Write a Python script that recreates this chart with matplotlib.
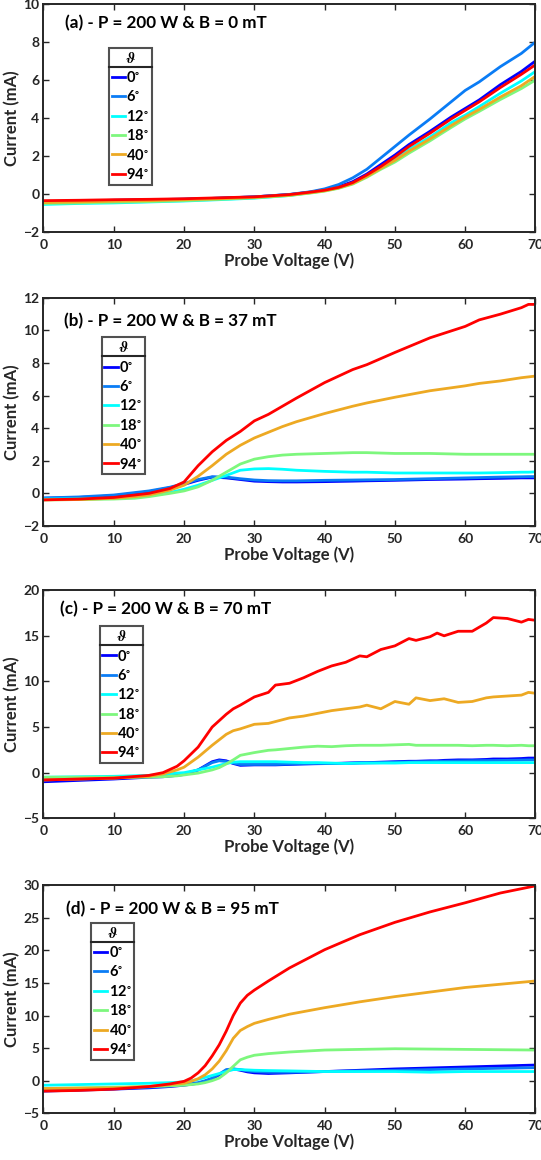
import matplotlib
matplotlib.use("Agg")
from matplotlib import pyplot as plt
from matplotlib.lines import Line2D

plt.rcParams["font.family"] = ["Lato", "DejaVu Sans"]
plt.rcParams["font.weight"] = "bold"
plt.rcParams["mathtext.fontset"] = "stix"

angles = ["0", "6", "12", "18", "40", "94"]
colors = ["#0000FF", "#0A7CF5", "#00FFFF", "#7DF77D", "#EDA923", "#FF0000"]
titles = [
    "(a) - P = 200 W & B = 0 mT",
    "(b) - P = 200 W & B = 37 mT",
    "(c) - P = 200 W & B = 70 mT",
    "(d) - P = 200 W & B = 95 mT",
]
ylims = [(-2, 10), (-2, 12), (-5, 20), (-5, 30)]
yticks = [range(-2, 11, 2), range(-2, 13, 2), range(-5, 21, 5), range(-5, 31, 5)]

# panel (a)  B = 0 mT
x_a = [0, 5, 10, 15, 20, 25, 30, 35, 38, 40, 42, 44, 46, 48, 50, 52, 55, 58, 60, 62, 65, 68, 70]
a_0 = [-0.4, -0.37, -0.33, -0.3, -0.27, -0.22, -0.15, -0.03, 0.1, 0.22, 0.38, 0.65, 1.05, 1.55, 2.05, 2.6, 3.3, 4.05, 4.5, 4.95, 5.75, 6.45, 7.0]
a_6 = [-0.45, -0.4, -0.35, -0.32, -0.28, -0.22, -0.15, -0.02, 0.12, 0.27, 0.5, 0.85, 1.3, 1.9, 2.5, 3.1, 3.95, 4.85, 5.45, 5.9, 6.7, 7.4, 8.0]
a_12 = [-0.55, -0.5, -0.47, -0.42, -0.37, -0.3, -0.22, -0.08, 0.07, 0.18, 0.33, 0.57, 0.95, 1.4, 1.85, 2.35, 3.0, 3.75, 4.15, 4.6, 5.3, 5.95, 6.45]
a_18 = [-0.5, -0.47, -0.43, -0.4, -0.35, -0.28, -0.2, -0.08, 0.05, 0.15, 0.3, 0.52, 0.88, 1.3, 1.68, 2.15, 2.8, 3.5, 3.95, 4.35, 4.97, 5.55, 6.0]
a_40 = [-0.45, -0.42, -0.38, -0.35, -0.3, -0.25, -0.18, -0.06, 0.07, 0.17, 0.32, 0.55, 0.92, 1.35, 1.77, 2.25, 2.9, 3.6, 4.05, 4.45, 5.1, 5.7, 6.2]
a_94 = [-0.35, -0.33, -0.3, -0.28, -0.25, -0.2, -0.15, -0.03, 0.1, 0.2, 0.35, 0.6, 1.0, 1.45, 1.95, 2.5, 3.2, 3.95, 4.4, 4.85, 5.6, 6.3, 6.8]

# panel (b)  B = 37 mT
x_b = [0, 5, 10, 13, 15, 18, 20, 22, 24, 26, 28, 30, 32, 34, 36, 40, 44, 46, 50, 55, 60, 62, 65, 68, 69, 70]
b_0 = [-0.3, -0.25, -0.15, 0.0, 0.1, 0.35, 0.55, 0.8, 1.0, 0.95, 0.85, 0.75, 0.72, 0.7, 0.7, 0.72, 0.75, 0.77, 0.8, 0.85, 0.88, 0.9, 0.92, 0.95, 0.95, 0.95]
b_6 = [-0.28, -0.22, -0.1, 0.05, 0.15, 0.38, 0.6, 0.85, 1.02, 1.0, 0.9, 0.82, 0.78, 0.77, 0.77, 0.8, 0.82, 0.83, 0.85, 0.9, 0.95, 0.97, 1.0, 1.02, 1.03, 1.03]
b_12 = [-0.35, -0.33, -0.3, -0.22, -0.15, 0.05, 0.25, 0.5, 0.8, 1.1, 1.42, 1.5, 1.52, 1.48, 1.42, 1.35, 1.3, 1.3, 1.25, 1.25, 1.25, 1.25, 1.27, 1.3, 1.3, 1.32]
b_18 = [-0.4, -0.38, -0.35, -0.3, -0.2, 0.0, 0.15, 0.4, 0.8, 1.3, 1.8, 2.1, 2.25, 2.35, 2.4, 2.45, 2.5, 2.5, 2.45, 2.45, 2.4, 2.4, 2.4, 2.4, 2.4, 2.4]
b_40 = [-0.4, -0.38, -0.3, -0.2, -0.1, 0.2, 0.5, 1.05, 1.7, 2.4, 2.95, 3.4, 3.75, 4.1, 4.4, 4.9, 5.35, 5.55, 5.9, 6.3, 6.6, 6.75, 6.9, 7.1, 7.15, 7.2]
b_94 = [-0.4, -0.35, -0.25, -0.1, 0.0, 0.3, 0.7, 1.7, 2.55, 3.25, 3.8, 4.45, 4.85, 5.35, 5.85, 6.8, 7.6, 7.9, 8.65, 9.55, 10.25, 10.65, 11.0, 11.4, 11.6, 11.6]

# panel (c)  B = 70 mT
x_c = [0, 5, 10, 15, 17, 19, 20, 22, 24, 25, 26, 27, 28, 30, 32, 33, 35, 37, 39, 41, 43, 45, 46, 48, 50, 52, 53, 55, 56, 57, 59, 61, 63, 64, 66, 68, 69, 70]
c_0 = [-1.0, -0.85, -0.7, -0.5, -0.45, -0.3, -0.2, 0.3, 1.2, 1.4, 1.3, 1.0, 0.8, 0.85, 0.85, 0.85, 0.9, 0.95, 0.98, 1.0, 1.05, 1.1, 1.1, 1.15, 1.2, 1.25, 1.25, 1.3, 1.3, 1.35, 1.4, 1.4, 1.45, 1.5, 1.5, 1.55, 1.6, 1.6]
c_6 = [-0.8, -0.7, -0.6, -0.42, -0.38, -0.25, -0.12, 0.3, 1.1, 1.3, 1.22, 1.05, 0.9, 0.9, 0.9, 0.9, 0.95, 0.97, 1.0, 1.0, 1.02, 1.05, 1.07, 1.1, 1.15, 1.18, 1.2, 1.22, 1.24, 1.25, 1.28, 1.3, 1.32, 1.33, 1.35, 1.38, 1.4, 1.4]
c_12 = [-0.5, -0.45, -0.4, -0.3, -0.2, -0.05, 0.0, 0.3, 0.6, 0.8, 1.0, 1.15, 1.2, 1.2, 1.2, 1.2, 1.15, 1.1, 1.1, 1.05, 1.0, 1.05, 1.05, 1.05, 1.05, 1.1, 1.1, 1.1, 1.1, 1.1, 1.1, 1.1, 1.1, 1.1, 1.1, 1.1, 1.1, 1.1]
c_18 = [-0.5, -0.5, -0.5, -0.5, -0.45, -0.35, -0.25, -0.05, 0.3, 0.55, 0.95, 1.4, 1.9, 2.2, 2.45, 2.5, 2.65, 2.8, 2.9, 2.85, 2.95, 3.0, 3.0, 3.0, 3.05, 3.1, 3.0, 3.0, 3.0, 3.0, 3.0, 2.95, 3.0, 3.0, 2.95, 3.0, 2.95, 2.95]
c_40 = [-0.8, -0.7, -0.6, -0.4, -0.15, 0.3, 0.6, 1.7, 3.0, 3.6, 4.2, 4.6, 4.8, 5.3, 5.4, 5.6, 6.0, 6.2, 6.5, 6.8, 7.0, 7.2, 7.4, 7.0, 7.8, 7.5, 8.2, 7.9, 8.0, 8.1, 7.7, 7.8, 8.2, 8.3, 8.4, 8.5, 8.8, 8.7]
c_94 = [-0.8, -0.7, -0.6, -0.3, 0.0, 0.7, 1.3, 2.8, 5.0, 5.7, 6.4, 7.0, 7.4, 8.3, 8.8, 9.6, 9.8, 10.4, 11.1, 11.7, 12.1, 12.8, 12.7, 13.5, 13.9, 14.7, 14.5, 14.9, 15.3, 15.0, 15.5, 15.5, 16.4, 17.0, 16.9, 16.5, 16.8, 16.7]

# panel (d)  B = 95 mT
x_d = [0, 5, 10, 15, 18, 20, 21, 22, 23, 24, 25, 26, 27, 28, 29, 30, 32, 35, 40, 45, 50, 55, 60, 65, 70]
d_0 = [-1.6, -1.45, -1.3, -1.1, -0.9, -0.7, -0.55, -0.4, -0.1, 0.3, 0.9, 1.6, 1.8, 1.6, 1.35, 1.2, 1.1, 1.2, 1.4, 1.6, 1.8, 1.95, 2.1, 2.25, 2.4]
d_6 = [-1.4, -1.3, -1.2, -1.0, -0.8, -0.6, -0.45, -0.3, 0.0, 0.4, 1.0, 1.7, 1.8, 1.7, 1.5, 1.4, 1.3, 1.3, 1.4, 1.5, 1.6, 1.7, 1.8, 1.9, 2.0]
d_12 = [-0.7, -0.6, -0.5, -0.4, -0.3, -0.2, -0.05, 0.2, 0.5, 0.8, 1.1, 1.4, 1.7, 1.7, 1.65, 1.6, 1.55, 1.5, 1.4, 1.4, 1.4, 1.3, 1.4, 1.4, 1.4]
d_18 = [-1.2, -1.1, -1.0, -0.9, -0.8, -0.7, -0.6, -0.5, -0.3, 0.0, 0.4, 1.2, 2.2, 3.2, 3.6, 3.9, 4.15, 4.4, 4.7, 4.8, 4.9, 4.85, 4.8, 4.75, 4.7]
d_40 = [-1.2, -1.15, -1.1, -0.9, -0.6, -0.4, -0.1, 0.3, 0.9, 1.8, 3.0, 4.6, 6.5, 7.7, 8.3, 8.8, 9.4, 10.2, 11.2, 12.1, 12.9, 13.6, 14.3, 14.8, 15.3]
d_94 = [-1.6, -1.5, -1.3, -0.9, -0.5, -0.1, 0.4, 1.2, 2.3, 3.8, 5.5, 7.6, 10.0, 11.9, 13.1, 13.9, 15.3, 17.3, 20.1, 22.4, 24.3, 25.9, 27.3, 28.8, 29.9]

panels = [
    (x_a, [a_0, a_6, a_12, a_18, a_40, a_94]),
    (x_b, [b_0, b_6, b_12, b_18, b_40, b_94]),
    (x_c, [c_0, c_6, c_12, c_18, c_40, c_94]),
    (x_d, [d_0, d_6, d_12, d_18, d_40, d_94]),
]

# layout (figure fractions) and legend / title anchors (axes fractions)
bottoms = [0.800, 0.5466, 0.2946, 0.0403]
title_pos = [(0.043, 0.917), (0.042, 0.897), (0.034, 0.915), (0.045, 0.895)]
leg_pos = [(0.133, 0.808), (0.118, 0.827), (0.114, 0.842), (0.097, 0.835)]

dark = "#262626"
fig = plt.figure(figsize=(5.41, 11.6), dpi=100)
legends = []
for i, (x, ys) in enumerate(panels):
    ax = fig.add_axes([0.0804, bottoms[i], 0.9094, 0.1966])
    for y, c, ang in zip(ys, colors, angles):
        ax.plot(x, y, color=c, lw=2.0, label=ang + r"$^{\circ}$")
    ax.set_xlim(0, 70)
    ax.set_ylim(*ylims[i])
    ax.set_xticks(range(0, 71, 10))
    ax.set_yticks(list(yticks[i]))
    ax.tick_params(direction="in", top=True, right=True, length=4.5, width=1.0,
                   labelsize=10, colors=dark)
    ax.tick_params(axis="x", pad=5)
    ax.tick_params(axis="y", pad=3)
    for s in ax.spines.values():
        s.set_linewidth(1.4)
        s.set_color(dark)
    ax.set_xlabel("Probe Voltage (V)", fontsize=12, fontweight="bold", color=dark, labelpad=1)
    ax.set_ylabel("Current (mA)", fontsize=12, fontweight="bold", color=dark, labelpad=2)
    ax.text(title_pos[i][0], title_pos[i][1], titles[i], transform=ax.transAxes,
            fontsize=12.3, fontweight="bold", va="center", ha="left", color="black")
    leg = ax.legend(title=r"$\vartheta$", loc="upper left", bbox_to_anchor=leg_pos[i],
                    fontsize=10.5, title_fontsize=11, frameon=True, fancybox=False,
                    borderaxespad=0, borderpad=0.2, handlelength=0.9, handletextpad=0.1,
                    labelspacing=0.3, edgecolor=dark)
    leg.get_frame().set_linewidth(1.5)
    legends.append(leg)

# separator line under the legend title
fig.canvas.draw()
r = fig.canvas.get_renderer()
inv = fig.transFigure.inverted()
for leg in legends:
    fb = leg.get_frame().get_window_extent(r)
    tb = leg.get_title().get_window_extent(r)
    yline = tb.y0 - 1
    p0 = inv.transform((fb.x0, yline))
    p1 = inv.transform((fb.x1, yline))
    fig.add_artist(Line2D([p0[0], p1[0]], [p0[1], p1[1]], transform=fig.transFigure,
                          color=dark, lw=1.5))

fig.savefig("out.png", dpi=100)
